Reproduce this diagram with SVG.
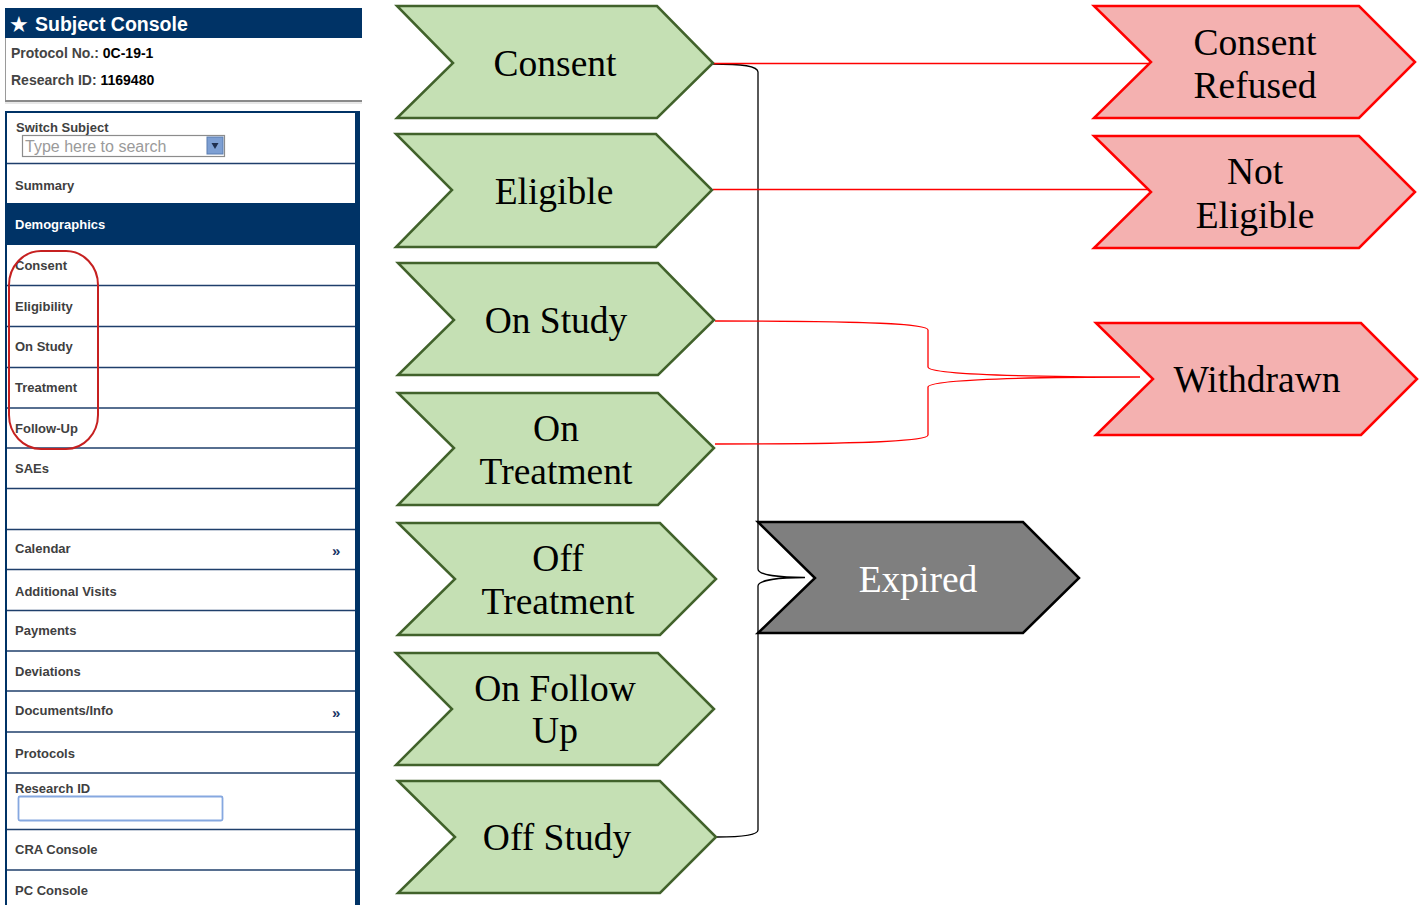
<svg xmlns="http://www.w3.org/2000/svg" width="1425" height="905" viewBox="0 0 1425 905">
<style>
.green{fill:#c5e0b4;stroke:#41622b;stroke-width:2.5;stroke-linejoin:miter}
.red{fill:#f4b1b0;stroke:#ff0000;stroke-width:2.5}
.grey{fill:#7f7f7f;stroke:#000;stroke-width:2.5}
.lbl{font-family:"Liberation Serif","Times New Roman",serif;font-size:37.5px;fill:#000;text-anchor:middle}
.wl{fill:#fff}
.ui{font-family:"Liberation Sans",Arial,sans-serif}
.item{font-family:"Liberation Sans",Arial,sans-serif;font-size:13px;font-weight:bold;fill:#404040}
.sep{stroke:#1f3f6b;stroke-width:1.5}
.rc{fill:none;stroke:#ff0000;stroke-width:1.3}
.bc{fill:none;stroke:#000;stroke-width:1.3}
.chev{font-family:"Liberation Sans",Arial,sans-serif;font-size:15px;font-weight:bold;fill:#1a3566}
</style>
<rect width="1425" height="905" fill="#fff"/>

<g id="subject-console">
  <rect x="5" y="8" width="357" height="30" fill="#003366"/>
  <text x="9" y="32" font-family="DejaVu Sans,sans-serif" font-size="22" fill="#fff">★</text>
  <text x="35" y="31" class="ui" font-size="19.5" font-weight="bold" fill="#fff">Subject Console</text>
  <line x1="5.5" y1="38" x2="5.5" y2="101" stroke="#9a9a9a" stroke-width="1"/>
  <text x="11" y="58" class="ui" font-size="14" font-weight="bold" fill="#444">Protocol No.: <tspan fill="#000">0C-19-1</tspan></text>
  <text x="11" y="85" class="ui" font-size="14" font-weight="bold" fill="#444">Research ID: <tspan fill="#000">1169480</tspan></text>
  <line x1="5" y1="101" x2="362" y2="101" stroke="#8a8a8a" stroke-width="2"/>
  <line x1="5" y1="103" x2="362" y2="103" stroke="#d0d0d0" stroke-width="1"/>

  <rect x="5" y="111" width="355" height="794" fill="#003366"/>
  <rect x="7" y="113" width="348" height="792" fill="#fff"/>
  <rect x="7" y="203" width="348" height="42" fill="#003366"/>

  <g id="rows">
    <line class="sep" x1="7" y1="163.5" x2="355" y2="163.5"/>
    <line class="sep" x1="7" y1="285.5" x2="355" y2="285.5"/>
    <line class="sep" x1="7" y1="326.5" x2="355" y2="326.5"/>
    <line class="sep" x1="7" y1="367.5" x2="355" y2="367.5"/>
    <line class="sep" x1="7" y1="408" x2="355" y2="408" stroke="#6f8fb5"/>
    <line class="sep" x1="7" y1="448" x2="355" y2="448"/>
    <line class="sep" x1="7" y1="488.5" x2="355" y2="488.5"/>
    <line class="sep" x1="7" y1="529.5" x2="355" y2="529.5"/>
    <line class="sep" x1="7" y1="569.5" x2="355" y2="569.5"/>
    <line class="sep" x1="7" y1="610.5" x2="355" y2="610.5"/>
    <line class="sep" x1="7" y1="651" x2="355" y2="651"/>
    <line class="sep" x1="7" y1="691" x2="355" y2="691"/>
    <line class="sep" x1="7" y1="732" x2="355" y2="732"/>
    <line class="sep" x1="7" y1="773" x2="355" y2="773"/>
    <line class="sep" x1="7" y1="829.5" x2="355" y2="829.5"/>
    <line class="sep" x1="7" y1="870" x2="355" y2="870"/>
  </g>

  <text x="16" y="132" class="item" font-size="12.5">Switch Subject</text>
  <rect x="22.5" y="135.5" width="202" height="21" fill="#fff" stroke="#8c8c8c" stroke-width="1.2"/>
  <text x="25" y="152" class="ui" font-size="16" fill="#9a9a9a">Type here to search</text>
  <rect x="207" y="137" width="16" height="17" fill="#7d9fd3" stroke="#5a7cb0" stroke-width="1"/>
  <path d="M211.5 143 L218.5 143 L215 149 Z" fill="#1f2f4f"/>

  <text x="15" y="190" class="item">Summary</text>
  <text x="15" y="229" class="item" style="fill:#fff">Demographics</text>
  <text x="15" y="270" class="item">Consent</text>
  <text x="15" y="311" class="item">Eligibility</text>
  <text x="15" y="351" class="item">On Study</text>
  <text x="15" y="392" class="item">Treatment</text>
  <text x="15" y="433" class="item">Follow-Up</text>
  <text x="15" y="473" class="item">SAEs</text>
  <text x="15" y="553" class="item">Calendar</text>
  <text x="332" y="556" class="chev">»</text>
  <text x="15" y="596" class="item">Additional Visits</text>
  <text x="15" y="635" class="item">Payments</text>
  <text x="15" y="676" class="item">Deviations</text>
  <text x="15" y="715" class="item">Documents/Info</text>
  <text x="332" y="718" class="chev">»</text>
  <text x="15" y="758" class="item">Protocols</text>
  <text x="15" y="793" class="item">Research ID</text>
  <rect x="18.5" y="796.5" width="204" height="24" rx="1.5" fill="#fff" stroke="#86a8e0" stroke-width="1.8"/>
  <text x="15" y="854" class="item">CRA Console</text>
  <text x="15" y="895" class="item">PC Console</text>

  <rect x="9" y="251" width="89" height="198" rx="32" ry="34" fill="none" stroke="#c62020" stroke-width="2"/>
</g>

<g id="connectors">
  <path class="bc" d="M713 64 C742 64 758 66 758 72 L758 569 C758 575 780 577.5 805 577.5 C780 577.5 758 580 758 586 L758 830 C758 835 742 837 717 837"/>
  <path class="rc" d="M713 63.5 H1151"/>
  <path class="rc" d="M713 189.5 H1151"/>
  <path class="rc" d="M715 321 C870 321 928 324 928 330 L928 367 C928 373 990 377 1140 377 M715 444 C870 444 928 441 928 435 L928 387 C928 381 990 377 1140 377"/>
</g>

<g id="node-consent">
  <path class="green" d="M397 6 H657 L713 63 L657 118 H397 L453 63 Z"/>
  <text class="lbl" x="555" y="76">Consent</text>
</g>
<g id="node-eligible">
  <path class="green" d="M396 134 H656 L712 190 L656 247 H396 L452 190 Z"/>
  <text class="lbl" x="554" y="204">Eligible</text>
</g>
<g id="node-on-study">
  <path class="green" d="M398 263 H658 L714 320 L658 375 H398 L454 320 Z"/>
  <text class="lbl" x="556" y="333">On Study</text>
</g>
<g id="node-on-treatment">
  <path class="green" d="M398 393 H658 L714 448 L658 505 H398 L454 448 Z"/>
  <text class="lbl" x="556" y="441">On</text>
  <text class="lbl" x="556" y="484">Treatment</text>
</g>
<g id="node-off-treatment">
  <path class="green" d="M398 523 H660 L716 579 L660 635 H398 L455 579 Z"/>
  <text class="lbl" x="558" y="571">Off</text>
  <text class="lbl" x="558" y="614">Treatment</text>
</g>
<g id="node-on-follow-up">
  <path class="green" d="M396 653 H658 L714 709 L658 765 H396 L452 709 Z"/>
  <text class="lbl" x="555" y="701">On Follow</text>
  <text class="lbl" x="555" y="743">Up</text>
</g>
<g id="node-off-study">
  <path class="green" d="M398 781 H660 L716 837 L660 893 H398 L455 837 Z"/>
  <text class="lbl" x="557" y="850">Off Study</text>
</g>

<g id="node-consent-refused">
  <path class="red" d="M1094 6 H1359 L1415 62 L1359 118 H1094 L1151 62 Z"/>
  <text class="lbl" x="1255" y="55">Consent</text>
  <text class="lbl" x="1255" y="98">Refused</text>
</g>
<g id="node-not-eligible">
  <path class="red" d="M1094 136 H1359 L1415 192 L1359 248 H1094 L1151 192 Z"/>
  <text class="lbl" x="1255" y="184">Not</text>
  <text class="lbl" x="1255" y="228">Eligible</text>
</g>
<g id="node-withdrawn">
  <path class="red" d="M1096 323 H1361 L1417 379 L1361 435 H1096 L1153 379 Z"/>
  <text class="lbl" x="1257" y="392">Withdrawn</text>
</g>

<g id="node-expired">
  <path class="grey" d="M758 522 H1023 L1079 578 L1023 633 H758 L815 578 Z"/>
  <text class="lbl" x="918" y="592" style="fill:#fff">Expired</text>
</g>
</svg>
